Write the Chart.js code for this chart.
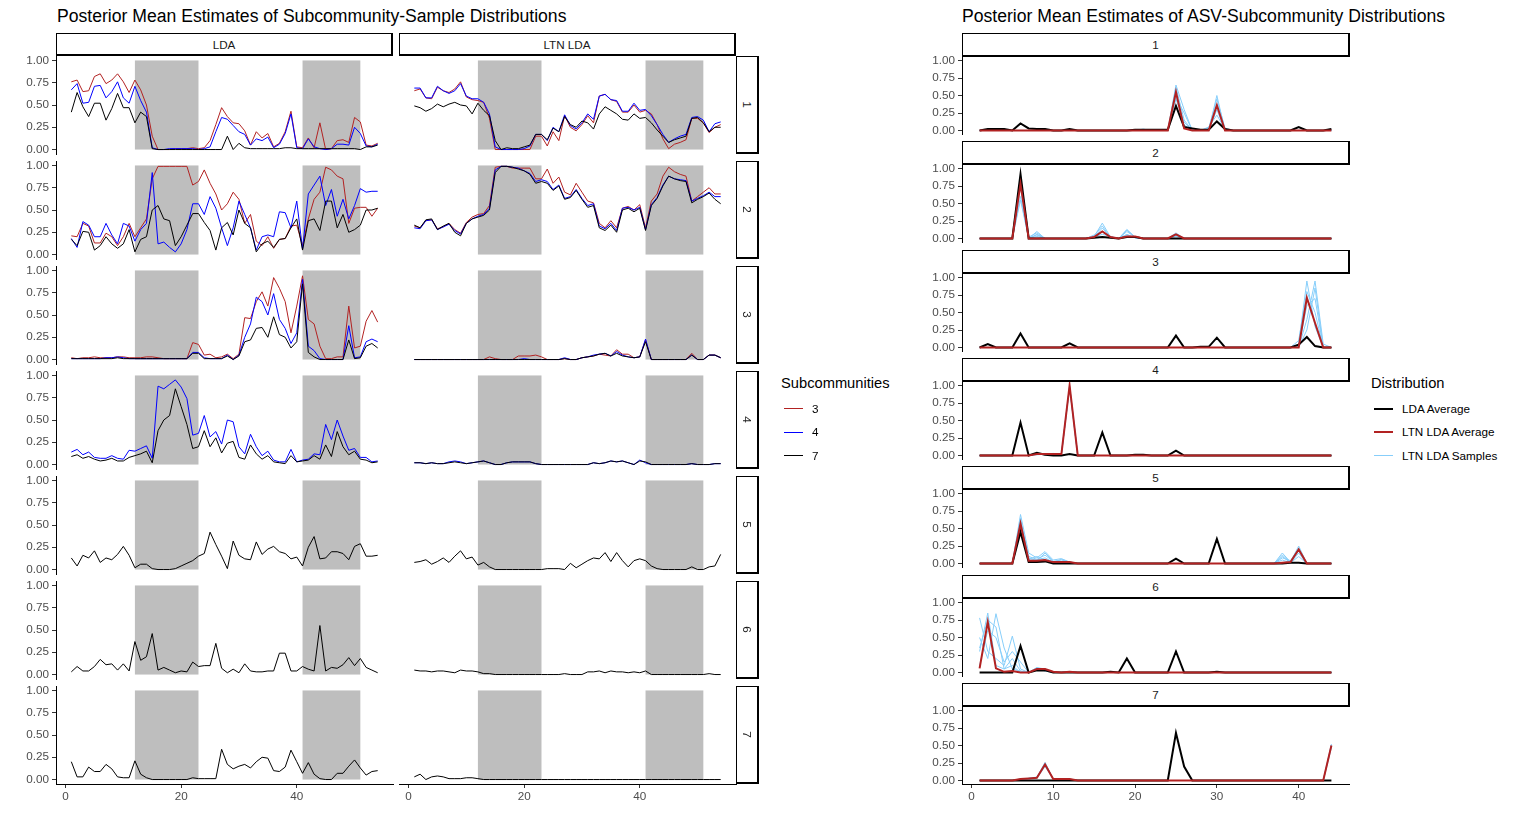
<!DOCTYPE html>
<html>
<head>
<meta charset="utf-8">
<title>Posterior Mean Estimates</title>
<script src="https://cdn.jsdelivr.net/npm/chart.js@4.4.1/dist/chart.umd.min.js"></script>
<style>
  html, body { margin: 0; padding: 0; background: #fff; }
  body { width: 1518px; height: 828px; position: relative; overflow: hidden;
         font-family: 'Liberation Sans', Arial, sans-serif; color: #000; }
  .abs { position: absolute; }
  .title { font-size: 17.6px; line-height: 20px; white-space: nowrap; }
  .strip { box-sizing: border-box; border: 1px solid #000; border-right-width: 2px; border-bottom-width: 2px;
           display: flex; align-items: center; justify-content: center;
           font-size: 11.7px; color: #1A1A1A; background: #fff; }
  .rot { display: inline-block; transform: rotate(90deg); }
  .legend-title { font-size: 14.7px; line-height: 18px; white-space: nowrap; }
  .legend-label { font-size: 11.7px; line-height: 14px; white-space: nowrap; color: #000; }
  canvas { position: absolute; }
</style>
</head>
<body>
<script>
/* ---------- data ---------- */
const sampleNums = [1,2,3,4,5,6,7,8,9,10,11,12,13,14,15,16,17,18,19,20,21,22,23,24,25,26,27,
  28,29,30,31,32,33,34,35,36,37,38,39,40,41,42,43,44,45,46,47,48,49,50,51,52,53,54];
const asvNums = [1,2,3,4,5,6,7,8,9,10,11,12,13,14,15,16,17,18,19,20,21,22,
  23,24,25,26,27,28,29,30,31,32,33,34,35,36,37,38,39,40,41,42,43,44];

const yTicks = [0, 0.25, 0.5, 0.75, 1];
const sampleTicks = [0, 20, 40];
const asvTicks = [0, 10, 20, 30, 40];
const shadeRanges = [[12, 23], [41, 51]];
const facetNames = ['LDA', 'LTN LDA'];
const subcommunityNames = ['1', '2', '3', '4', '5', '6', '7'];

// LDA column
const lda1Sub3 = [0.76,0.78,0.65,0.66,0.82,0.85,0.74,0.78,0.85,0.76,0.64,0.78,0.67,0.5,
  0.15,0,0,0,0.01,0.01,0.01,0.02,0.01,0.02, 0.1,0.28,0.47,0.37,0.3,0.29,0.21,0.05,0.2,0.13,
  0.18,0.03,0.07,0.2,0.43,0.03,0.02,0.13,0.02,0.3, 0,0.01,0.1,0.11,0.08,0.36,0.31,0.05,0.04,0.07];
const lda1Sub4 = [0.67,0.74,0.52,0.53,0.71,0.72,0.58,0.65,0.76,0.58,0.52,0.71,0.55,0.42,
  0.02,0,0,0.01,0.01,0.01,0.01,0.01,0,0.01, 0.03,0.2,0.36,0.34,0.27,0.2,0.17,0.05,0.12,0.1,
  0.14,0.02,0.06,0.18,0.4,0.02,0.01,0.12,0.03,0.01, 0,0.01,0.06,0.06,0.05,0.25,0.18,0.04,0.03,0.06];
const lda1Sub7 = [0.42,0.64,0.48,0.37,0.52,0.52,0.33,0.46,0.63,0.47,0.47,0.3,0.42,0.37,
  0.01,0,0,0,0,0,0,0,0,0, 0,0,0,0.15,0,0.07,0.02,0.01,0.01,0.01,
  0.01,0.01,0.01,0.02,0.02,0.01,0.01,0.01,0.01,0.01, 0.01,0.01,0.01,0.01,0.01,0.01,0,0.03,0.03,0.05];

const lda2Sub3 = [0.21,0.2,0.35,0.32,0.13,0.13,0.24,0.2,0.1,0.2,0.35,0.2,0.3,0.4,
  0.85,0.99,0.99,0.99,0.99,0.99,0.99,0.78,0.82,0.95, 0.8,0.68,0.5,0.57,0.7,0.62,0.35,0.45,0.15,0.1,
  0.2,0.07,0.17,0.18,0.32,0.33,0.1,0.4,0.62,0.7, 0.98,0.95,0.88,0.85,0.35,0.52,0.53,0.53,0.43,0.52];
const lda2Sub4 = [0.18,0.08,0.37,0.33,0.2,0.2,0.35,0.22,0.12,0.35,0.32,0.15,0.28,0.35,
  0.92,0.12,0.14,0.08,0.03,0.12,0.28,0.57,0.57,0.45, 0.65,0.52,0.3,0.1,0.3,0.6,0.45,0.3,0.05,0.2,
  0.22,0.2,0.48,0.47,0.3,0.6,0.06,0.68,0.78,0.88, 0.55,0.73,0.43,0.62,0.4,0.55,0.74,0.7,0.71,0.71];
const lda2Sub7 = [0.17,0.1,0.26,0.25,0.05,0.1,0.2,0.12,0.07,0.12,0.28,0.03,0.17,0.2,
  0.5,0.55,0.4,0.38,0.1,0.2,0.33,0.46,0.46,0.36, 0.27,0.05,0.3,0.36,0.22,0.5,0.35,0.3,0.03,0.12,
  0.15,0.08,0.17,0.18,0.3,0.4,0.05,0.38,0.4,0.27, 0.6,0.6,0.3,0.45,0.25,0.28,0.33,0.5,0.5,0.52];

const lda3Sub3 = [0.02,0.01,0.02,0.02,0.03,0.02,0.02,0.02,0.03,0.03,0.02,0.02,0.02,0.03,
  0.03,0.02,0.01,0.01,0.01,0.01,0.01,0.19,0.17,0.05, 0.06,0.02,0.03,0.06,0.01,0.06,0.47,0.46,0.65,0.76,
  0.6,0.92,0.8,0.65,0.3,0.6,0.94,0.45,0.4,0.15, 0.01,0.01,0.03,0.03,0.6,0.13,0.15,0.43,0.55,0.42];
const lda3Sub4 = [0.01,0.01,0.01,0.01,0.01,0.01,0.02,0.02,0.03,0.02,0.01,0.01,0.01,0.01,
  0.01,0.01,0.01,0.01,0.01,0.01,0.01,0.08,0.08,0.02, 0.01,0.01,0.01,0.05,0,0.05,0.25,0.4,0.7,0.65,
  0.5,0.74,0.45,0.35,0.18,0.3,0.9,0.15,0.1,0.01, 0,0,0,0,0.38,0.02,0.03,0.2,0.23,0.2];
const lda3Sub7 = [0.01,0.01,0.01,0.01,0.01,0.01,0.01,0.01,0.02,0.01,0.01,0.01,0.01,0.01,
  0.01,0.01,0.01,0.01,0.01,0.01,0.01,0.07,0.07,0.01, 0.01,0.01,0.01,0.04,0,0.04,0.2,0.22,0.35,0.36,
  0.25,0.48,0.28,0.25,0.13,0.2,0.85,0.08,0.03,0, 0,0,0,0,0.22,0.01,0.02,0.15,0.18,0.13];

const lda4Sub4 = [0.14,0.17,0.11,0.14,0.08,0.07,0.07,0.1,0.07,0.06,0.16,0.15,0.18,0.21,
  0.07,0.88,0.85,0.9,0.95,0.87,0.74,0.33,0.35,0.55, 0.31,0.37,0.23,0.5,0.48,0.2,0.12,0.34,0.2,0.1,
  0.15,0.05,0.03,0.03,0.17,0.03,0.05,0.06,0.12,0.11, 0.45,0.28,0.5,0.32,0.16,0.18,0.08,0.08,0.03,0.04];
const lda4Sub7 = [0.09,0.11,0.07,0.09,0.06,0.04,0.05,0.07,0.04,0.04,0.08,0.1,0.12,0.15,
  0.02,0.38,0.5,0.55,0.85,0.65,0.45,0.18,0.2,0.38, 0.2,0.3,0.13,0.24,0.26,0.08,0.06,0.22,0.12,0.06,
  0.1,0.03,0.02,0.01,0.1,0.03,0.04,0.05,0.1,0.06, 0.22,0.09,0.37,0.2,0.11,0.15,0.06,0.05,0.02,0.03];

const lda5Sub7 = [0.13,0.04,0.16,0.13,0.21,0.08,0.13,0.11,0.17,0.26,0.16,0.02,0.06,0.06,
  0.01,0,0,0,0.01,0.04,0.07,0.1,0.15,0.18, 0.42,0.28,0.15,0.01,0.32,0.16,0.12,0.11,0.31,0.17,
  0.23,0.26,0.2,0.18,0.12,0.14,0.04,0.25,0.37,0.12, 0.13,0.2,0.2,0.18,0.11,0.26,0.29,0.15,0.15,0.16];
const lda6Sub7 = [0.03,0.09,0.04,0.04,0.09,0.17,0.11,0.12,0.05,0.12,0.04,0.37,0.16,0.2,
  0.46,0.05,0.08,0.05,0.02,0.04,0.03,0.14,0.09,0.1, 0.1,0.35,0.07,0.02,0.06,0.02,0.12,0.04,0.03,0.03,
  0.04,0.04,0.24,0.24,0.04,0.04,0.09,0.06,0.04,0.55, 0.04,0.08,0.07,0.11,0.19,0.1,0.18,0.08,0.05,0.02];
const lda7Sub7 = [0.2,0.03,0.03,0.14,0.09,0.09,0.17,0.12,0.03,0.02,0.02,0.21,0.06,0.02,
  0,0,0,0,0,0,0,0.02,0.01,0.01, 0.01,0.01,0.34,0.17,0.12,0.15,0.17,0.13,0.2,0.25,
  0.24,0.1,0.09,0.14,0.33,0.2,0.07,0.19,0.06,0.01, 0,0,0.07,0.07,0.15,0.22,0.13,0.05,0.09,0.1];

// LTN LDA column
const ltn1Sub3 = [0.66,0.68,0.58,0.57,0.7,0.66,0.64,0.68,0.76,0.59,0.56,0.55,0.53,0.35,
  0,0,0,0,0,0,0,0.15,0.15,0.04, 0.2,0.1,0.38,0.25,0.21,0.28,0.38,0.3,0.6,0.62,
  0.56,0.54,0.42,0.42,0.5,0.42,0.44,0.4,0.28,0.12, 0.01,0.06,0.08,0.11,0.35,0.35,0.3,0.19,0.25,0.28];
const ltn1Sub4 = [0.69,0.69,0.58,0.58,0.71,0.66,0.63,0.66,0.74,0.6,0.57,0.57,0.53,0.4,
  0.03,0,0,0,0,0.01,0.04,0.17,0.17,0.1, 0.25,0.2,0.39,0.27,0.23,0.3,0.4,0.34,0.6,0.62,
  0.56,0.55,0.43,0.43,0.52,0.44,0.45,0.38,0.28,0.17, 0.08,0.12,0.15,0.17,0.36,0.37,0.33,0.2,0.29,0.31];
const ltn1Sub7 = [0.49,0.47,0.43,0.46,0.51,0.48,0.51,0.53,0.5,0.49,0.4,0.52,0.44,0.38,
  0.1,0,0.02,0.01,0.01,0.03,0.05,0.17,0.17,0.11, 0.24,0.2,0.37,0.28,0.25,0.32,0.3,0.23,0.4,0.48,
  0.44,0.4,0.34,0.33,0.4,0.35,0.36,0.3,0.22,0.15, 0.08,0.11,0.13,0.15,0.35,0.36,0.3,0.2,0.25,0.25];

const ltn2Sub3 = [0.32,0.3,0.38,0.39,0.29,0.31,0.35,0.28,0.24,0.36,0.42,0.45,0.46,0.55,
  0.98,0.99,0.99,0.97,0.97,0.97,0.97,0.85,0.85,0.96, 0.8,0.87,0.7,0.67,0.8,0.7,0.6,0.58,0.35,0.3,
  0.38,0.3,0.52,0.54,0.5,0.56,0.3,0.6,0.68,0.88, 0.98,0.93,0.9,0.88,0.6,0.65,0.7,0.75,0.68,0.68];
const ltn2Sub4 = [0.3,0.29,0.38,0.39,0.28,0.31,0.34,0.27,0.23,0.35,0.4,0.43,0.45,0.52,
  0.95,0.99,0.99,0.98,0.97,0.94,0.91,0.82,0.84,0.82, 0.73,0.78,0.63,0.65,0.73,0.63,0.55,0.57,0.32,0.29,
  0.35,0.27,0.52,0.53,0.5,0.53,0.28,0.56,0.64,0.78, 0.88,0.85,0.84,0.83,0.6,0.63,0.66,0.7,0.65,0.65];
const ltn2Sub7 = [0.33,0.3,0.39,0.4,0.28,0.32,0.35,0.25,0.21,0.35,0.4,0.42,0.44,0.5,
  0.92,0.99,0.99,0.98,0.96,0.94,0.9,0.8,0.82,0.8, 0.72,0.77,0.62,0.64,0.72,0.62,0.53,0.55,0.3,0.27,
  0.33,0.25,0.5,0.52,0.48,0.52,0.27,0.55,0.63,0.77, 0.88,0.85,0.83,0.82,0.58,0.62,0.65,0.69,0.62,0.57];

const ltn3Sub3 = [0,0,0,0,0,0,0,0,0,0,0,0,0,0.03,
  0.01,0,0,0,0.04,0.04,0.04,0.05,0.03,0, 0,0,0.01,0,0,0.02,0.03,0.04,0.06,0.05,
  0.04,0.11,0.06,0.06,0.02,0.03,0.22,0,0,0, 0,0,0,0,0.07,0,0,0.05,0.05,0.02];
const ltn3Sub4 = [0,0,0,0,0,0,0,0,0,0,0,0,0,0,
  0,0,0,0,0,0.01,0,0,0,0, 0,0,0.02,0,0,0.02,0.03,0.05,0.06,0.07,
  0.04,0.09,0.05,0.03,0.02,0.03,0.23,0,0,0, 0,0,0,0,0.05,0,0,0.05,0.05,0.02];
const ltn3Sub7 = [0,0,0,0,0,0,0,0,0,0,0,0,0,0,
  0,0,0,0,0,0,0,0,0,0, 0,0,0.01,0,0,0.02,0.03,0.04,0.06,0.07,
  0.04,0.07,0.04,0.03,0.02,0.03,0.2,0,0,0, 0,0,0,0,0.05,0,0,0.05,0.05,0.02];

const ltn4Sub4 = [0.02,0.02,0.01,0.02,0.01,0.01,0.03,0.04,0.03,0.01,0.02,0.03,0.04,0.02,
  0,0,0.02,0.03,0.03,0.03,0.03,0.01,0,0, 0,0,0,0,0,0,0,0.02,0.01,0.02,
  0.04,0.03,0.04,0.02,0,0.05,0.02,0,0,0, 0,0,0,0,0.01,0,0,0,0.01,0.01];
const ltn4Sub7 = [0.02,0.02,0.01,0.02,0.01,0.01,0.02,0.03,0.02,0.01,0.02,0.03,0.04,0.02,
  0,0,0.02,0.03,0.03,0.03,0.03,0.01,0,0, 0,0,0,0,0,0,0,0.02,0.01,0.02,
  0.04,0.03,0.04,0.02,0,0.04,0.03,0,0,0, 0,0,0,0,0.01,0,0,0,0.01,0.01];

const ltn5Sub7 = [0.08,0.09,0.11,0.06,0.09,0.13,0.08,0.15,0.21,0.12,0.14,0.05,0.08,0.03,
  0,0,0,0,0,0,0,0,0,0.01, 0.01,0.01,0,0.07,0.02,0.06,0.1,0.13,0.12,0.19,
  0.09,0.19,0.1,0.03,0.1,0.12,0.1,0.04,0.01,0, 0,0,0,0,0.03,0,0,0.03,0.04,0.17];
const ltn6Sub7 = [0.05,0.04,0.04,0.03,0.04,0.04,0.03,0.02,0.05,0.04,0.04,0.03,0.01,0.01,
  0,0,0,0,0,0,0,0,0,0, 0,0,0.01,0,0,0,0.03,0.03,0.04,0.02,
  0.04,0.03,0.03,0.02,0.03,0.02,0.04,0,0,0, 0,0,0,0,0,0,0,0.01,0,0];
const ltn7Sub7 = [0.03,0.06,0,0.03,0.04,0.03,0.01,0.01,0.01,0.02,0.02,0.01,0,0,
  0,0,0,0,0,0,0,0,0,0, 0,0,0,0,0,0,0,0,0,0,
  0,0,0,0,0,0,0,0,0,0, 0,0,0,0,0,0,0,0,0,0];

// ASV-subcommunity distributions
const asv1Lda = [0,0.02,0.02,0.02,0,0.1,0.03,0.02,0.02,0, 0,0.02,0,0,0,0,0,0,0,0.01,
  0.01,0.01,0.01,0.01,0.35,0.05,0.03,0.01,0.01,0.13, 0.02,0,0,0,0,0,0,0,0,0.05, 0,0,0,0.02];
const asv1Ltn = [0,0,0,0,0,0,0,0,0,0, 0,0,0,0,0,0,0,0,0,0,
  0,0,0,0,0.55,0.03,0,0,0,0.36, 0,0,0,0,0,0,0,0,0,0, 0,0,0,0];
const asv1Samples = [
  [0,0,0,0,0,0,0,0,0,0, 0,0,0,0,0,0,0,0,0,0, 0,0,0,0,0.62,0.15,0,0,0.03,0.45, 0.03,0,0,0,0,0,0,0,0,0, 0,0,0,0],
  [0,0,0,0,0,0,0,0,0,0, 0,0,0,0,0,0,0,0,0,0.01, 0,0,0,0,0.48,0.25,0,0,0,0.3, 0,0,0,0,0,0,0,0,0,0, 0,0,0,0],
  [0,0,0,0,0,0,0,0,0,0, 0,0,0,0,0,0,0,0,0,0, 0,0,0,0,0.55,0.08,0,0,0.05,0.22, 0.02,0,0,0,0,0,0,0,0,0, 0,0,0,0],
  [0,0,0,0,0,0,0,0,0,0, 0,0,0,0,0,0,0,0,0,0, 0.02,0,0,0,0.65,0.3,0,0,0,0.5, 0,0,0,0,0,0,0,0,0,0, 0,0,0,0],
  [0,0,0,0,0,0,0,0,0,0, 0,0,0,0,0,0,0,0,0,0, 0,0,0,0,0.45,0.12,0,0,0.02,0.38, 0,0,0,0,0,0,0,0,0,0, 0,0,0,0]
];

const asv2Lda = [0,0,0,0,0,0.92,0,0,0,0, 0,0,0,0,0.01,0.02,0.01,0,0.02,0.02,
  0,0,0,0,0,0,0,0,0,0, 0,0,0,0,0,0,0,0,0,0, 0,0,0,0];
const asv2Ltn = [0,0,0,0,0,0.78,0,0,0,0, 0,0,0,0,0.02,0.1,0.02,0,0.03,0.03,
  0,0,0,0,0.06,0,0,0,0,0, 0,0,0,0,0,0,0,0,0,0, 0,0,0,0];
const asv2Samples = [
  [0,0,0,0,0,0.9,0,0.1,0,0, 0,0,0,0,0.03,0.22,0.02,0,0.13,0.02, 0,0,0,0,0.05,0,0,0,0,0, 0,0,0,0,0,0,0,0,0,0, 0,0,0,0],
  [0,0,0,0,0,0.6,0,0.05,0,0, 0,0,0,0,0.05,0.1,0.01,0,0.06,0.01, 0,0,0,0,0.08,0,0,0,0,0, 0,0,0,0,0,0,0,0,0,0, 0,0,0,0],
  [0,0,0,0,0,0.75,0.02,0.08,0,0, 0,0,0,0,0.02,0.15,0.02,0,0.1,0.02, 0,0,0,0,0.03,0,0,0,0,0, 0,0,0,0,0,0,0,0,0,0, 0,0,0,0],
  [0,0,0,0,0,0.55,0,0.06,0,0, 0,0,0,0,0.02,0.06,0.03,0,0.05,0.01, 0,0,0,0,0.04,0,0,0,0,0, 0,0,0,0,0,0,0,0,0,0, 0,0,0,0],
  [0,0,0,0,0,0.85,0,0.03,0,0, 0,0,0,0,0.04,0.18,0.01,0,0.12,0.02, 0,0,0,0,0.06,0,0,0,0,0, 0,0,0,0,0,0,0,0,0,0, 0,0,0,0]
];

const asv3Lda = [0,0.05,0,0,0,0.2,0,0,0,0, 0,0.06,0,0,0,0,0,0,0,0,
  0,0,0,0,0.17,0,0,0.01,0.01,0.14, 0,0,0,0,0,0,0,0,0,0.04, 0.15,0.02,0,0];
const asv3Ltn = [0,0,0,0,0,0,0,0,0,0, 0,0,0,0,0,0,0,0,0,0,
  0,0,0,0,0,0,0,0,0,0, 0,0,0,0,0,0,0,0,0,0, 0.71,0.35,0,0];
const asv3Samples = [
  [0,0,0,0,0,0,0,0,0,0, 0,0,0,0,0,0,0,0,0,0, 0,0,0,0,0,0,0,0,0,0, 0,0,0,0,0,0,0,0,0,0.05, 0.95,0.3,0,0],
  [0,0,0,0,0,0,0,0,0,0, 0,0,0,0,0,0,0,0,0,0, 0,0,0,0,0,0,0,0,0,0, 0,0,0,0,0,0,0,0,0,0, 0.4,0.95,0.05,0],
  [0,0,0,0,0,0,0,0,0,0, 0,0,0,0,0,0,0,0,0,0, 0,0,0,0,0,0,0,0,0,0, 0,0,0,0,0,0,0,0,0,0.1, 0.8,0.5,0,0],
  [0,0,0,0,0,0,0,0,0,0, 0,0,0,0,0,0,0,0,0,0, 0,0,0,0,0,0,0,0,0,0, 0,0,0,0,0,0,0,0,0,0, 0.25,0.85,0,0],
  [0,0,0,0,0,0,0,0,0,0, 0,0,0,0,0,0,0,0,0,0, 0,0,0,0,0,0,0,0,0,0, 0,0,0,0,0,0,0,0,0,0.02, 0.6,0.7,0,0]
];

const asv4Lda = [0,0,0,0,0,0.47,0,0.04,0.01,0, 0,0.02,0,0,0,0.33,0,0,0,0.01,
  0.01,0,0,0,0.07,0,0,0,0,0, 0,0,0,0,0,0,0,0,0,0, 0,0,0,0];
const asv4Ltn = [0,0,0,0,0,0,0,0.02,0.02,0.02, 0.02,1,0,0,0,0,0,0,0,0,
  0,0,0,0,0,0,0,0,0,0, 0,0,0,0,0,0,0,0,0,0, 0,0,0,0];
const asv4Samples = [
  [0,0,0,0,0,0,0,0.02,0.02,0.02, 0.02,1,0,0,0,0,0,0,0,0, 0,0,0,0,0,0,0,0,0,0, 0,0,0,0,0,0,0,0,0,0, 0,0,0,0],
  [0,0,0,0,0,0,0,0.02,0.02,0.02, 0.02,0.98,0,0,0,0,0,0,0,0, 0,0,0,0,0,0,0,0,0,0, 0,0,0,0,0,0,0,0,0,0, 0,0,0,0],
  [0,0,0,0,0,0,0,0.01,0.02,0.02, 0.02,0.97,0,0,0,0,0,0,0,0, 0,0,0,0,0,0,0,0,0,0, 0,0,0,0,0,0,0,0,0,0, 0,0,0,0],
  [0,0,0,0,0,0,0,0.02,0.02,0.03, 0.02,0.99,0,0,0,0,0,0,0,0, 0,0,0,0,0,0,0,0,0,0, 0,0,0,0,0,0,0,0,0,0, 0,0,0,0],
  [0,0,0,0,0,0,0,0.02,0.01,0.02, 0.02,0.99,0,0,0,0,0,0,0,0, 0,0,0,0,0,0,0,0,0,0, 0,0,0,0,0,0,0,0,0,0, 0,0,0,0]
];

const asv5Lda = [0,0,0,0,0,0.45,0.02,0.02,0.03,0, 0,0,0,0,0,0,0,0,0,0,
  0,0,0,0,0.07,0,0,0,0,0.35, 0,0,0,0,0,0,0,0,0.01,0.01, 0,0,0,0];
const asv5Ltn = [0,0,0,0,0,0.57,0.04,0.04,0.05,0.02, 0.02,0.02,0,0,0,0,0,0,0,0,
  0,0,0,0,0,0,0,0,0,0, 0,0,0,0,0,0,0,0.01,0.02,0.2, 0,0,0,0];
const asv5Samples = [
  [0,0,0,0,0,0.7,0.15,0.08,0.17,0.05, 0.07,0.02,0,0,0,0,0,0,0,0, 0,0,0,0,0,0,0,0,0,0, 0,0,0,0,0,0,0,0.15,0.02,0.25, 0,0,0,0],
  [0,0,0,0,0,0.45,0.05,0.05,0.08,0.02, 0.03,0.01,0,0,0,0,0,0,0,0, 0,0,0,0,0,0,0,0,0,0, 0,0,0,0,0,0,0,0.05,0.01,0.1, 0,0,0,0],
  [0,0,0,0,0,0.6,0.1,0.06,0.12,0.03, 0.05,0.02,0,0,0,0,0,0,0,0, 0,0,0,0,0,0,0,0,0,0, 0,0,0,0,0,0,0,0.12,0.02,0.18, 0,0,0,0],
  [0,0,0,0,0,0.52,0.08,0.04,0.15,0.03, 0.02,0.01,0,0,0,0,0,0,0,0, 0,0,0,0,0,0,0,0,0,0, 0,0,0,0,0,0,0,0.08,0.04,0.22, 0,0,0,0],
  [0,0,0,0,0,0.65,0.06,0.1,0.05,0.02, 0.06,0.02,0,0,0,0,0,0,0,0, 0,0,0,0,0,0,0,0,0,0, 0,0,0,0,0,0,0,0.1,0.01,0.15, 0,0,0,0]
];

const asv6Lda = [0,0,0,0,0,0.38,0,0.03,0.03,0, 0,0,0,0,0,0,0.01,0,0.2,0,
  0,0,0,0,0.3,0,0,0,0,0.01, 0,0,0,0,0,0,0,0,0,0, 0,0,0,0];
const asv6Ltn = [0.06,0.72,0.06,0.01,0.02,0,0,0.05,0.05,0.01, 0,0.01,0,0,0,0,0,0,0,0,
  0,0,0,0,0,0,0,0,0,0, 0,0,0,0,0,0,0,0,0,0, 0,0,0,0];
const asv6Samples = [
  [0.78,0.3,0.2,0.1,0.52,0.05,0,0.04,0.03,0, 0,0.01,0,0,0,0,0,0,0,0, 0,0,0,0,0,0,0,0,0,0, 0,0,0,0,0,0,0,0,0,0, 0,0,0,0],
  [0.3,0.85,0.1,0.05,0.1,0,0,0.06,0.05,0, 0,0.01,0,0,0,0,0,0,0,0, 0,0,0,0,0,0,0,0,0,0, 0,0,0,0,0,0,0,0,0,0, 0,0,0,0],
  [0.5,0.2,0.84,0.35,0.05,0.02,0,0.05,0.04,0, 0,0,0,0,0,0,0,0,0,0, 0,0,0,0,0,0,0,0,0,0, 0,0,0,0,0,0,0,0,0,0, 0,0,0,0],
  [0.1,0.6,0.5,0.15,0.3,0.15,0,0.07,0.02,0, 0,0.01,0,0,0,0,0,0,0,0, 0,0,0,0,0,0,0,0,0,0, 0,0,0,0,0,0,0,0,0,0, 0,0,0,0],
  [0.35,0.75,0.65,0.05,0.2,0.02,0,0.07,0.05,0.01, 0,0,0,0,0,0,0,0,0,0, 0,0,0,0,0,0,0,0,0,0, 0,0,0,0,0,0,0,0,0,0, 0,0,0,0]
];

const asv7Lda = [0,0,0,0,0,0,0,0,0,0, 0,0,0,0,0,0,0,0,0,0,
  0,0,0,0,0.68,0.2,0,0,0,0, 0,0,0,0,0,0,0,0,0,0, 0,0,0,0];
const asv7Ltn = [0,0,0,0,0,0.02,0.03,0.04,0.23,0.02, 0.02,0.02,0,0,0,0,0,0,0,0,
  0,0,0,0,0,0,0,0,0,0, 0,0,0,0,0,0,0,0,0,0, 0,0,0,0.5];
const asv7Samples = [
  [0,0,0,0,0,0.02,0.03,0.04,0.26,0.02, 0.02,0.02,0,0,0,0,0,0,0,0, 0,0,0,0,0,0,0,0,0,0, 0,0,0,0,0,0,0,0,0,0, 0,0,0,0.52],
  [0,0,0,0,0,0.01,0.03,0.03,0.2,0.02, 0.02,0.02,0,0,0,0,0,0,0,0, 0,0,0,0,0,0,0,0,0,0, 0,0,0,0,0,0,0,0,0,0, 0,0,0,0.47],
  [0,0,0,0,0,0.02,0.03,0.04,0.24,0.02, 0.02,0.02,0,0,0,0,0,0,0,0, 0,0,0,0,0,0,0,0,0,0, 0,0,0,0,0,0,0,0,0,0, 0,0,0,0.5],
  [0,0,0,0,0,0.02,0.02,0.04,0.22,0.02, 0.02,0.01,0,0,0,0,0,0,0,0, 0,0,0,0,0,0,0,0,0,0, 0,0,0,0,0,0,0,0,0,0, 0,0,0,0.49],
  [0,0,0,0,0,0.02,0.03,0.05,0.25,0.02, 0.02,0.02,0,0,0,0,0,0,0,0, 0,0,0,0,0,0,0,0,0,0, 0,0,0,0,0,0,0,0,0,0, 0,0,0,0.51]
];

const ldaPanels = [
  { sub3: lda1Sub3, sub4: lda1Sub4, sub7: lda1Sub7 },
  { sub3: lda2Sub3, sub4: lda2Sub4, sub7: lda2Sub7 },
  { sub3: lda3Sub3, sub4: lda3Sub4, sub7: lda3Sub7 },
  { sub4: lda4Sub4, sub7: lda4Sub7 },
  { sub7: lda5Sub7 }, { sub7: lda6Sub7 }, { sub7: lda7Sub7 }
];
const ltnPanels = [
  { sub3: ltn1Sub3, sub4: ltn1Sub4, sub7: ltn1Sub7 },
  { sub3: ltn2Sub3, sub4: ltn2Sub4, sub7: ltn2Sub7 },
  { sub3: ltn3Sub3, sub4: ltn3Sub4, sub7: ltn3Sub7 },
  { sub4: ltn4Sub4, sub7: ltn4Sub7 },
  { sub7: ltn5Sub7 }, { sub7: ltn6Sub7 }, { sub7: ltn7Sub7 }
];
const asvPanels = [
  { lda: asv1Lda, ltn: asv1Ltn, samples: asv1Samples },
  { lda: asv2Lda, ltn: asv2Ltn, samples: asv2Samples },
  { lda: asv3Lda, ltn: asv3Ltn, samples: asv3Samples },
  { lda: asv4Lda, ltn: asv4Ltn, samples: asv4Samples },
  { lda: asv5Lda, ltn: asv5Ltn, samples: asv5Samples },
  { lda: asv6Lda, ltn: asv6Ltn, samples: asv6Samples },
  { lda: asv7Lda, ltn: asv7Ltn, samples: asv7Samples }
];

/* ---------- styling ---------- */
const FONT = "'Liberation Sans', Arial, sans-serif";
const subColors = { sub3: '#B22222', sub4: '#0000FF', sub7: '#000000' };
const subOrder = { sub7: 0, sub4: 1, sub3: 2 };
const LDA_COLOR = '#000000', LTN_COLOR = '#B22222', SAMPLE_COLOR = '#87CEFA';

/* ---------- helpers ---------- */
function addDiv(cls, left, top, w, h, html) {
    const d = document.createElement('div');
    d.className = 'abs ' + cls;
    d.style.left = left + 'px'; d.style.top = top + 'px';
    if (w != null) d.style.width = w + 'px';
    if (h != null) d.style.height = h + 'px';
    if (html != null) d.innerHTML = html;
    document.body.appendChild(d);
    return d;
}
function points(xs, ys) { return xs.map((x, i) => ({ x: x, y: ys[i] })); }

const shadePlugin = {
    id: 'shade',
    beforeDatasetsDraw(chart, args, opts) {
        if (!opts.ranges || !opts.ranges.length) return;
        const { ctx, scales: { x, y } } = chart;
        ctx.save();
        ctx.fillStyle = '#BEBEBE';
        const y0 = y.getPixelForValue(1), y1 = y.getPixelForValue(0);
        opts.ranges.forEach(([a, b]) => {
            const x0 = x.getPixelForValue(a), x1 = x.getPixelForValue(b);
            ctx.fillRect(x0, y0, x1 - x0, y1 - y0);
        });
        ctx.restore();
    }
};

// the y tick labels ask for ~10px of room above and below the plot area,
// so keep the canvas margins larger than that
const PAD = 12, XAXIS_H = 26;

function makePanel(p) {
    const padTop = PAD, padBottom = p.xAxis ? XAXIS_H : PAD;
    const yW = p.yAxis ? p.yW : 0;
    const canvas = document.createElement('canvas');
    const cw = yW + p.w + 4, ch = padTop + p.h + padBottom;
    canvas.width = cw; canvas.height = ch;
    canvas.style.width = cw + 'px'; canvas.style.height = ch + 'px';
    canvas.style.left = (p.x - yW) + 'px';
    canvas.style.top = (p.y - padTop) + 'px';
    document.body.appendChild(canvas);

    const tickFont = { family: FONT, size: 11.7 };
    new Chart(canvas, {
        type: 'line',
        data: { datasets: p.series.map(s => ({
            data: points(s.xs, s.ys), borderColor: s.color, borderWidth: s.width,
            pointRadius: 0, tension: 0, fill: false, order: s.order
        })) },
        options: {
            responsive: false, animation: false, events: [],
            layout: { padding: { top: padTop, bottom: p.xAxis ? 0 : padBottom, left: 0, right: 4 } },
            plugins: { legend: { display: false }, tooltip: { enabled: false }, shade: { ranges: p.shade || [] } },
            scales: {
                x: {
                    type: 'linear', min: p.xMin, max: p.xMax, display: p.xAxis,
                    afterBuildTicks: s => { s.ticks = p.xTicks.map(v => ({ value: v })); },
                    afterFit: s => { s.height = p.xAxis ? XAXIS_H : 0; },
                    grid: { drawOnChartArea: false, drawTicks: true, tickLength: 4, color: '#333333' },
                    border: { display: true, color: '#000000', width: 1 },
                    ticks: { color: '#4D4D4D', font: tickFont, padding: 2, maxRotation: 0, autoSkip: false }
                },
                y: {
                    type: 'linear', min: -0.05, max: 1.05, display: p.yAxis,
                    afterBuildTicks: s => { s.ticks = yTicks.map(v => ({ value: v })); },
                    afterFit: s => { s.width = yW; },
                    grid: { drawOnChartArea: false, drawTicks: true, tickLength: 4, color: '#333333' },
                    border: { display: true, color: '#000000', width: 1 },
                    ticks: { color: '#4D4D4D', font: tickFont, padding: 3, autoSkip: false,
                             callback: v => Number(v).toFixed(2) }
                }
            }
        },
        plugins: [shadePlugin]
    });
}

/* ---------- titles ---------- */
addDiv('title', 57, 6, null, null, 'Posterior Mean Estimates of Subcommunity-Sample Distributions');
addDiv('title', 962, 6, null, null, 'Posterior Mean Estimates of ASV-Subcommunity Distributions');

/* ---------- left block: subcommunity-sample ---------- */
const colLefts = [56, 399];
const PANEL_W = 337, ROW_STEP = 105, ROW_H = 98, ROW_TOP = 56;
facetNames.forEach((name, c) => addDiv('strip', colLefts[c], 33, PANEL_W, 23, name));

[ldaPanels, ltnPanels].forEach((panels, c) => {
    panels.forEach((row, r) => {
        const series = Object.keys(row).map(k => ({
            xs: sampleNums, ys: row[k], color: subColors[k], width: 1, order: subOrder[k]
        }));
        makePanel({
            x: colLefts[c], y: ROW_TOP + r * ROW_STEP, w: PANEL_W, h: ROW_H,
            yAxis: c === 0, yW: 56, xAxis: r === panels.length - 1,
            xMin: -1.65, xMax: 56.65, xTicks: sampleTicks, shade: shadeRanges, series
        });
    });
});
subcommunityNames.forEach((n, r) => {
    addDiv('strip', 736, ROW_TOP + r * ROW_STEP, 23, ROW_H, '<span class="rot">' + n + '</span>');
});

/* ---------- right block: ASV-subcommunity ---------- */
const ASV_LEFT = 962, ASV_W = 387, ASV_STEP = 108.3, ASV_H = 77;
asvPanels.forEach((row, r) => {
    const stripTop = Math.round(33 + r * ASV_STEP);
    addDiv('strip', ASV_LEFT, stripTop, ASV_W + 1, 24, subcommunityNames[r]);
    const series = row.samples.map((s, i) => ({ xs: asvNums, ys: s, color: SAMPLE_COLOR, width: 1, order: 2 + i }));
    series.push({ xs: asvNums, ys: row.lda, color: LDA_COLOR, width: 2, order: 1 });
    series.push({ xs: asvNums, ys: row.ltn, color: LTN_COLOR, width: 2, order: 0 });
    makePanel({
        x: ASV_LEFT, y: stripTop + 24, w: ASV_W, h: ASV_H,
        yAxis: true, yW: 62, xAxis: r === asvPanels.length - 1,
        xMin: -1.15, xMax: 46.15, xTicks: asvTicks, series
    });
});

/* ---------- legends ---------- */
function legend(left, title, items) {
    addDiv('legend-title', left, 374, null, null, title);
    items.forEach((it, i) => {
        const cy = 408.5 + i * 23.5;
        addDiv('', left + 3, Math.round(cy - it.width / 2), 19, it.width).style.background = it.color;
        addDiv('legend-label', left + 31, Math.round(cy - 7), null, null, it.label);
    });
}
legend(781, 'Subcommunities', [
    { label: '3', color: subColors.sub3, width: 1 },
    { label: '4', color: subColors.sub4, width: 1 },
    { label: '7', color: subColors.sub7, width: 1 }
]);
legend(1371, 'Distribution', [
    { label: 'LDA Average', color: LDA_COLOR, width: 2 },
    { label: 'LTN LDA Average', color: LTN_COLOR, width: 2 },
    { label: 'LTN LDA Samples', color: SAMPLE_COLOR, width: 1 }
]);
</script>
</body>
</html>
